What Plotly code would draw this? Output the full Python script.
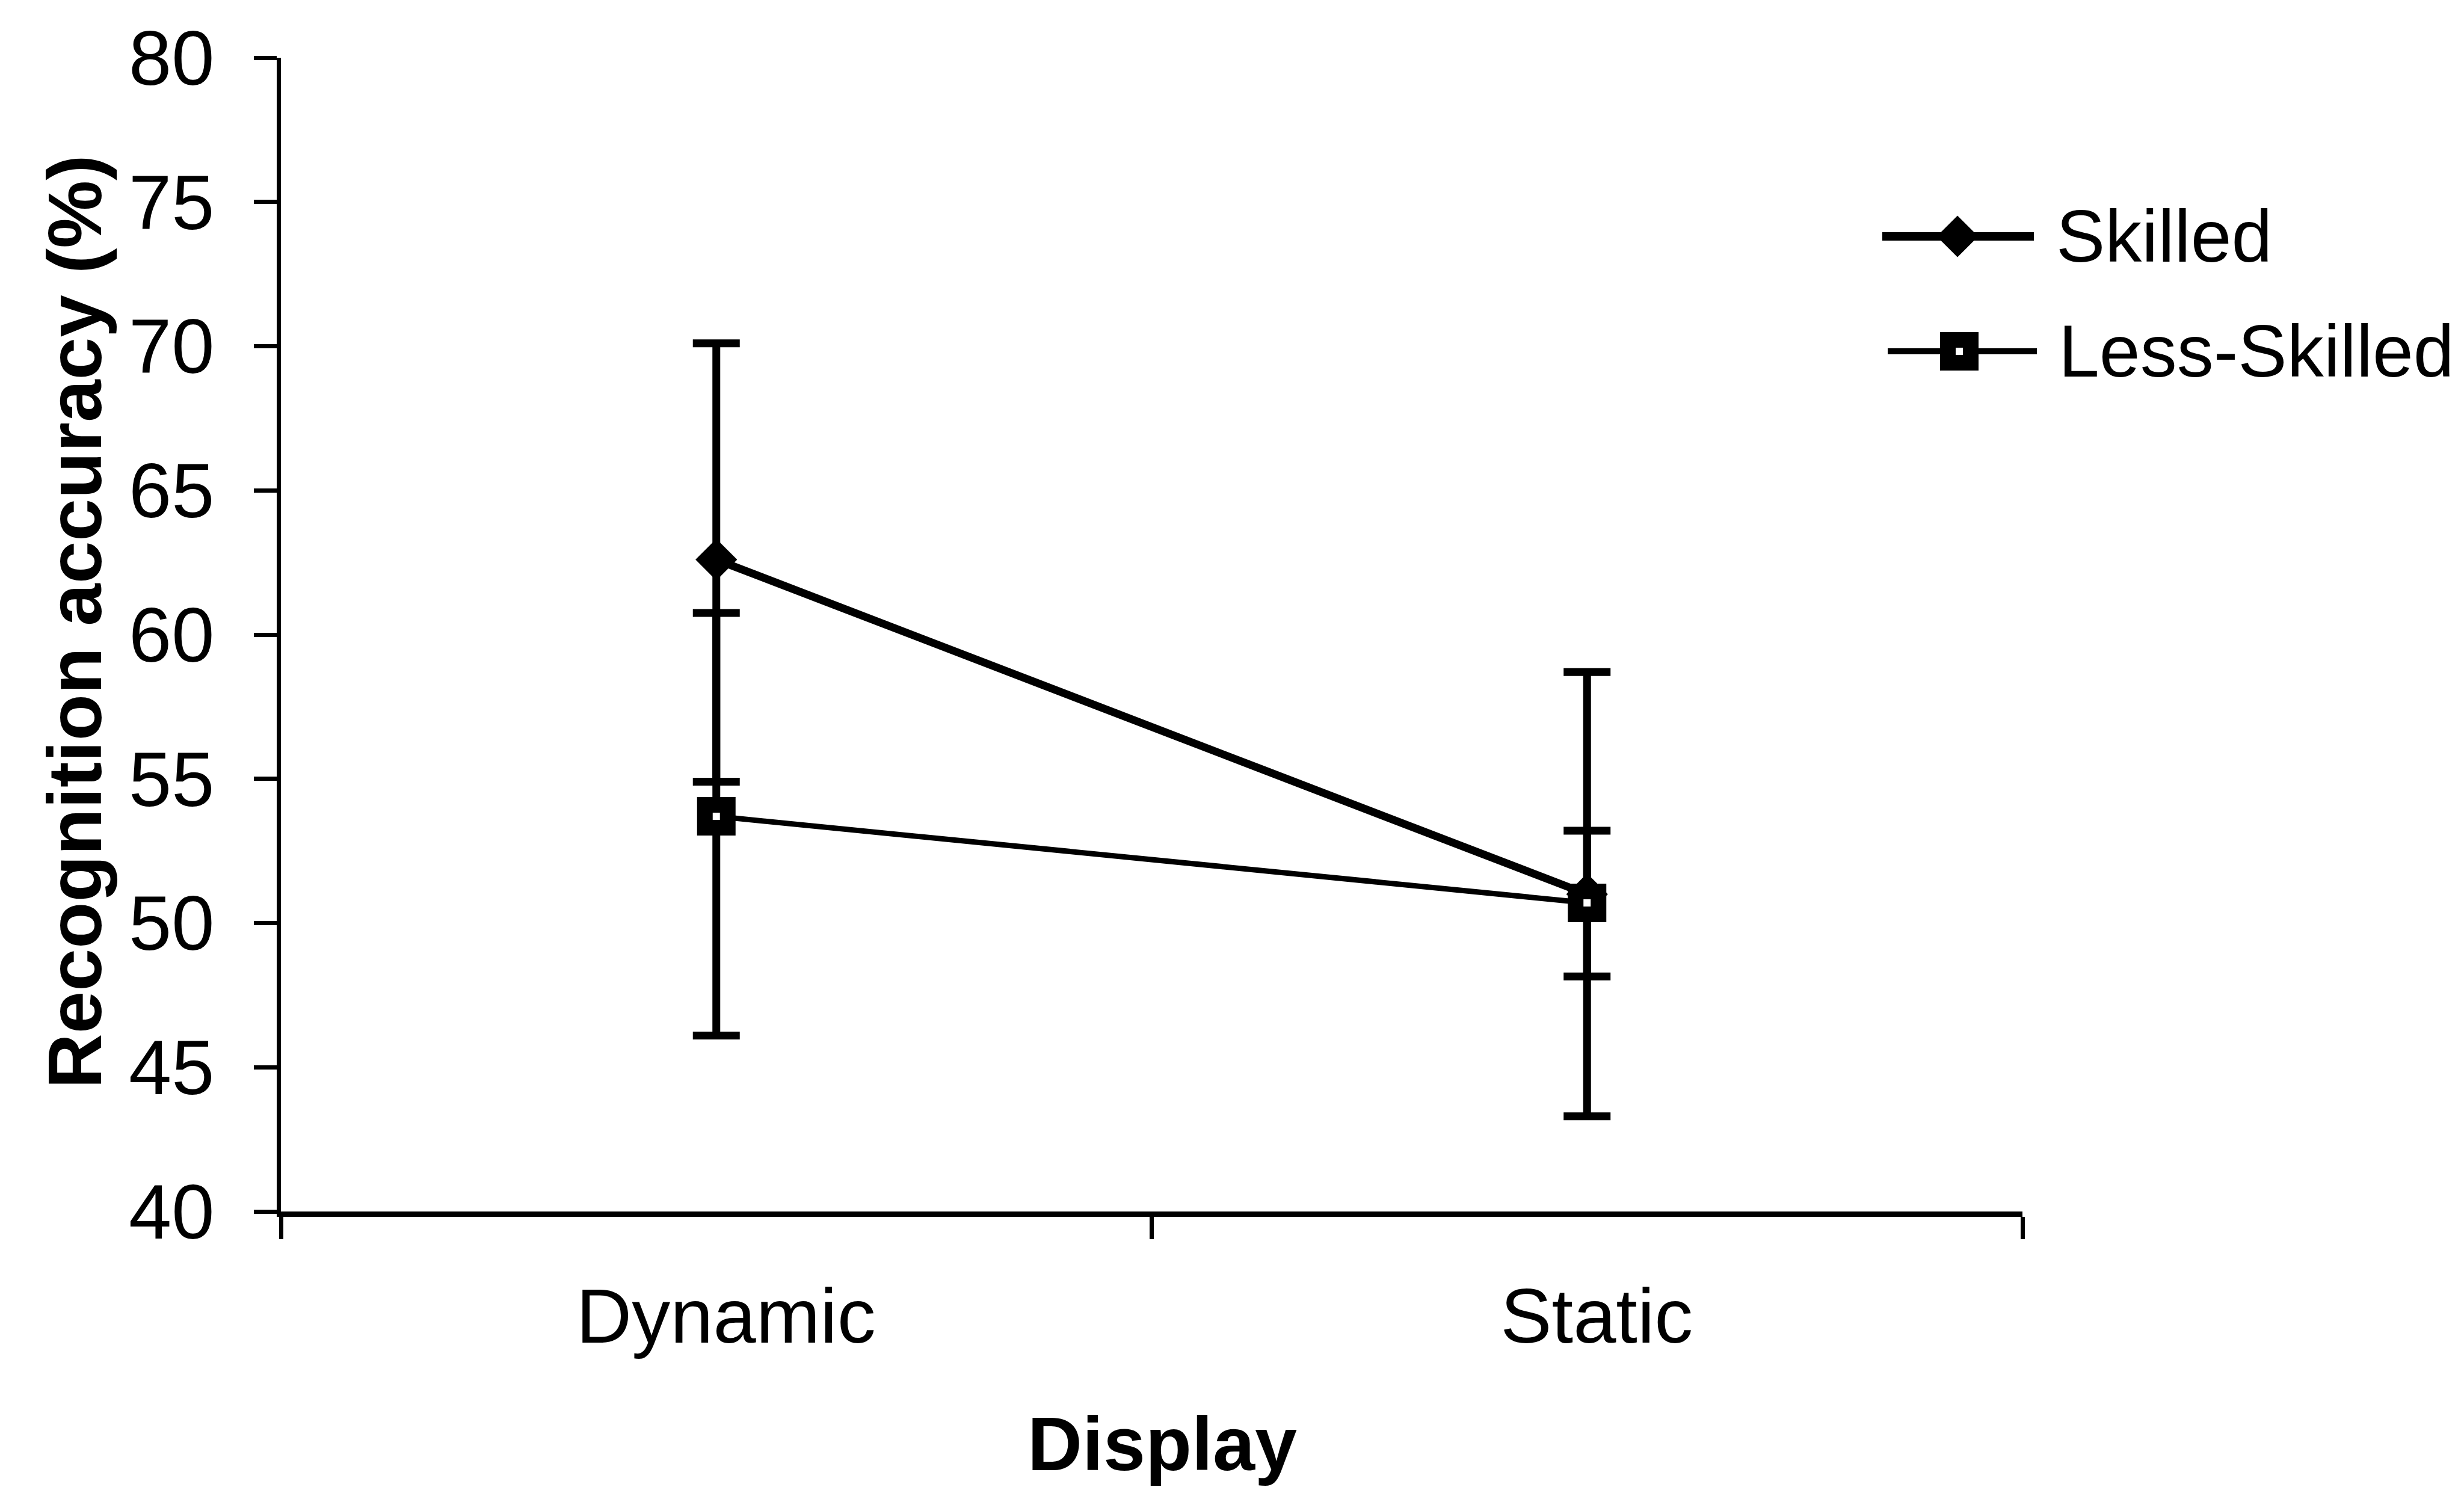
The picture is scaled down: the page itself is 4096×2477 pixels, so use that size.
import plotly.graph_objects as go

# ---- data -------------------------------------------------------------
categories = ["Dynamic", "Static"]
skilled_mean = [62.6, 51.0]
skilled_err_up = [7.5, 7.7]
skilled_err_down = [7.7, 7.7]
less_mean = [53.7, 50.7]
less_err_up = [7.05, 2.5]
less_err_down = [7.6, 2.55]
series_names = ["Skilled", "Less-Skilled"]
y_ticks = [40, 45, 50, 55, 60, 65, 70, 75, 80]

# ---- canvas geometry (pixels) -----------------------------------------
W, H = 4096, 2477
PLOT_L, PLOT_R, PLOT_T, PLOT_B = 467, 3362, 96, 2014
FONT = "Liberation Sans, Arial, sans-serif"
BLACK = "#000000"

x_pos = list(range(len(categories)))

diamond_marker = dict(symbol="diamond", size=50, color=BLACK, line=dict(width=3, color=BLACK))
square_marker = dict(symbol="square", size=38, color="white", line=dict(width=26, color=BLACK))
line_widths = [13, 9]

fig = go.Figure()

fig.add_trace(go.Scatter(
    x=x_pos, y=skilled_mean, name=series_names[0], mode="lines+markers",
    line=dict(color=BLACK, width=line_widths[0]),
    marker=diamond_marker,
    error_y=dict(type="data", symmetric=False, array=skilled_err_up,
                 arrayminus=skilled_err_down, color=BLACK, thickness=13, width=39),
    showlegend=False,
))
fig.add_trace(go.Scatter(
    x=x_pos, y=less_mean, name=series_names[1], mode="lines+markers",
    line=dict(color=BLACK, width=line_widths[1]),
    marker=square_marker,
    error_y=dict(type="data", symmetric=False, array=less_err_up,
                 arrayminus=less_err_down, color=BLACK, thickness=13, width=39),
    showlegend=False,
))

# ---- legend drawn on an overlay axis spanning the whole canvas ----------
leg_rows = [1 - 393 / H, 1 - 584 / H]
leg_line_x = [(3129 / W, 3381 / W), (3138 / W, 3386 / W)]
leg_mark_x = [3254 / W, 3257 / W]
leg_text_x = [3416 / W, 3420 / W]
leg_symbols = [diamond_marker, square_marker]
for i, name in enumerate(series_names):
    fig.add_trace(go.Scatter(
        x=list(leg_line_x[i]), y=[leg_rows[i], leg_rows[i]], mode="lines",
        line=dict(color=BLACK, width=line_widths[i] + 1), xaxis="x2", yaxis="y2",
        showlegend=False, hoverinfo="skip",
    ))
    fig.add_trace(go.Scatter(
        x=[leg_mark_x[i]], y=[leg_rows[i]], mode="markers", marker=leg_symbols[i],
        xaxis="x2", yaxis="y2", showlegend=False, hoverinfo="skip",
    ))

annotations = []
for i, name in enumerate(series_names):
    annotations.append(dict(
        text=name, xref="paper", yref="paper", x=leg_text_x[i], y=leg_rows[i],
        xanchor="left", yanchor="middle", showarrow=False,
        font=dict(family=FONT, size=122, color=BLACK),
    ))

# axis titles
annotations.append(dict(
    text="Display", xref="paper", yref="paper", x=1932 / W, y=1 - 2400 / H,
    xanchor="center", yanchor="middle", showarrow=False,
    font=dict(family=FONT, size=126, color=BLACK, weight="bold"),
))
annotations.append(dict(
    text="Recognition accuracy (%)", xref="paper", yref="paper",
    x=124 / W, y=1 - 1034 / H, xanchor="center", yanchor="middle",
    textangle=-90, showarrow=False,
    font=dict(family=FONT, size=127, color=BLACK, weight="bold"),
))

fig.update_layout(
    width=W, height=H,
    margin=dict(l=0, r=0, t=0, b=0, autoexpand=False),
    paper_bgcolor="white", plot_bgcolor="rgba(0,0,0,0)",
    font=dict(family=FONT, color=BLACK),
    showlegend=False,
    annotations=annotations,
    xaxis=dict(
        domain=[PLOT_L / W, PLOT_R / W], range=[-0.5, len(categories) - 0.5],
        tickmode="array", tickvals=x_pos, ticktext=categories, ticks="",
        tickfont=dict(family=FONT, size=128, color=BLACK),
        ticklabelstandoff=55, ticklabelshift=16,
        minor=dict(tickmode="array", tickvals=[-0.5, 0.5, 1.5], ticks="outside",
                   ticklen=37, tickwidth=7, tickcolor=BLACK, showgrid=False),
        showline=True, linewidth=9, linecolor=BLACK,
        showgrid=False, zeroline=False, automargin=False, fixedrange=True,
    ),
    yaxis=dict(
        domain=[1 - PLOT_B / H, 1 - PLOT_T / H], range=[40, 80],
        tickmode="array", tickvals=y_ticks,
        ticks="outside", ticklen=38, tickwidth=7, tickcolor=BLACK,
        tickfont=dict(family=FONT, size=128, color=BLACK),
        ticklabelstandoff=40,
        showline=True, linewidth=7, linecolor=BLACK,
        showgrid=False, zeroline=False, automargin=False, fixedrange=True,
    ),
    xaxis2=dict(domain=[0, 1], range=[0, 1], anchor="y2", visible=False, fixedrange=True),
    yaxis2=dict(domain=[0, 1], range=[0, 1], anchor="x2", visible=False, fixedrange=True),
)

fig.write_html("out.html")
